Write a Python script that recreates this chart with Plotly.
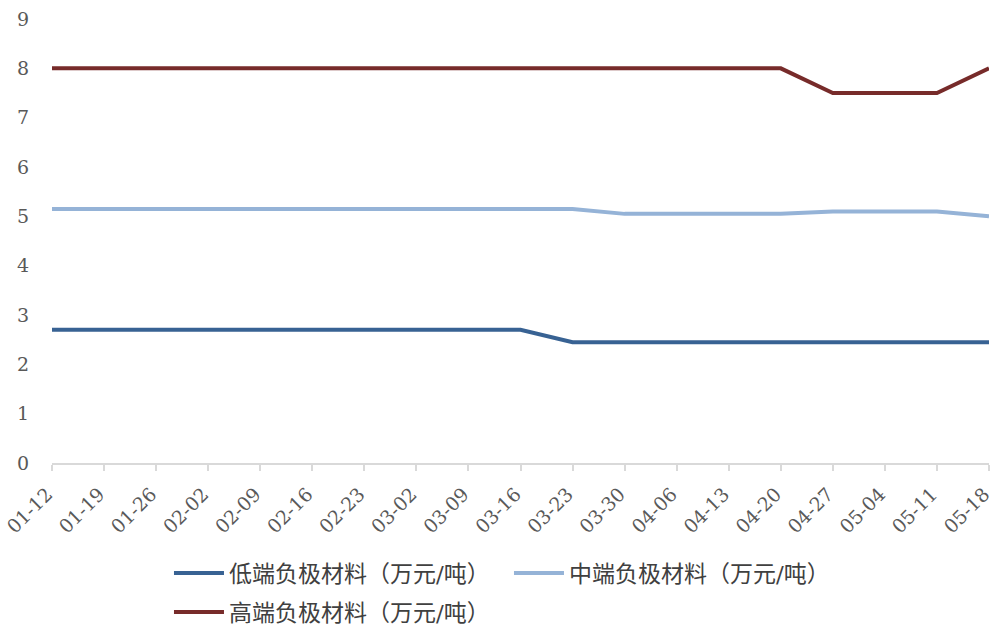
import plotly.graph_objects as go

dates = ["01-12", "01-19", "01-26", "02-02", "02-09", "02-16", "02-23", "03-02", "03-09",
         "03-16", "03-23", "03-30", "04-06", "04-13", "04-20", "04-27", "05-04", "05-11", "05-18"]
low_end = [2.7, 2.7, 2.7, 2.7, 2.7, 2.7, 2.7, 2.7, 2.7, 2.7,
           2.45, 2.45, 2.45, 2.45, 2.45, 2.45, 2.45, 2.45, 2.45]
mid_end = [5.15, 5.15, 5.15, 5.15, 5.15, 5.15, 5.15, 5.15, 5.15, 5.15,
           5.15, 5.05, 5.05, 5.05, 5.05, 5.1, 5.1, 5.1, 5.0]
high_end = [8.0, 8.0, 8.0, 8.0, 8.0, 8.0, 8.0, 8.0, 8.0, 8.0,
            8.0, 8.0, 8.0, 8.0, 8.0, 7.5, 7.5, 7.5, 8.0]
names = ["低端负极材料（万元/吨）", "中端负极材料（万元/吨）", "高端负极材料（万元/吨）"]
colors = ["#386293", "#95B3D7", "#772B2A"]
legend_refs = ["legend", "legend", "legend2"]

FONT = "DejaVu Serif, Noto Sans CJK SC, serif"

fig = go.Figure()
for name, ys, c, lg in zip(names, [low_end, mid_end, high_end], colors, legend_refs):
    fig.add_trace(go.Scatter(x=dates, y=ys, mode="lines", name=name, legend=lg,
                             line=dict(color=c, width=4)))

legend_common = dict(orientation="h", xref="container", yref="container",
                     xanchor="left", yanchor="middle",
                     font=dict(size=23, color="#404040", family=FONT),
                     entrywidth=275, entrywidthmode="pixels",
                     itemwidth=50, bgcolor="rgba(0,0,0,0)")

fig.update_layout(
    width=994, height=628,
    margin=dict(l=52, r=5, t=19, b=165, autoexpand=False),
    paper_bgcolor="white", plot_bgcolor="white",
    font=dict(family=FONT, color="#595959", size=18),
    showlegend=True,
    legend=dict(x=0.170, y=1 - 573 / 628, **legend_common),
    legend2=dict(x=0.170, y=1 - 612 / 628, **legend_common),
    xaxis=dict(type="category", range=[0, 18], showgrid=False, automargin=False,
               showline=True, linecolor="#D9D9D9", linewidth=1.5,
               ticks="outside", ticklen=6, tickcolor="#D9D9D9", tickwidth=1.5,
               tickangle=-45, ticklabelshift=-5, ticklabelstandoff=5,
               tickfont=dict(size=19, color="#595959")),
    yaxis=dict(range=[0, 9], dtick=1, showgrid=False, zeroline=False, automargin=False,
               showline=False, ticks="", ticklabelstandoff=22,
               tickfont=dict(size=19, color="#595959")),
)

fig.write_html("out.html")
